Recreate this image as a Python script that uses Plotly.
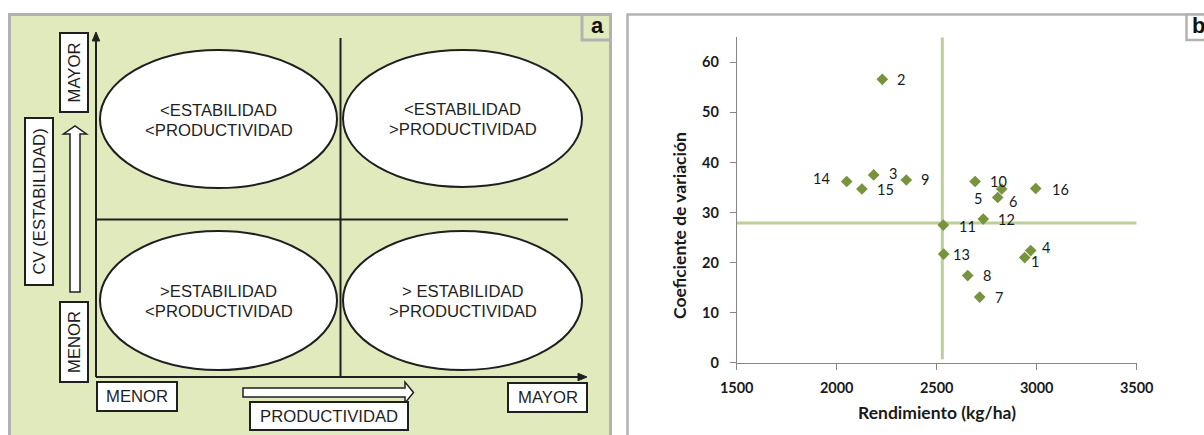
import plotly.graph_objects as go

W, H = 1204, 435

# ---- data: yield and coefficient of variation per genotype ----
genotypes = [str(i) for i in range(1, 17)]
yield_kg_ha = [2940, 2228, 2185, 2970, 2805, 2825, 2715, 2655,
               2348, 2692, 2533, 2733, 2535, 2050, 2126, 2995]
cv_pct = [21.0, 56.6, 37.5, 22.4, 33.0, 34.7, 13.1, 17.4,
          36.5, 36.2, 27.5, 28.7, 21.7, 36.2, 34.7, 34.8]

mean_yield = 2528
mean_cv = 27.9

x_ticks = [1500, 2000, 2500, 3000, 3500]
y_ticks = [0, 10, 20, 30, 40, 50, 60]

quadrant_labels = [
    ["<ESTABILIDAD", "<PRODUCTIVIDAD"],
    ["<ESTABILIDAD", ">PRODUCTIVIDAD"],
    [">ESTABILIDAD", "<PRODUCTIVIDAD"],
    ["> ESTABILIDAD", ">PRODUCTIVIDAD"],
]

# label placement for each genotype: anchor side, dx, dy (pixels, dy down)
label_side = ["left", "left", "left", "left", "right", "left", "left", "left",
              "left", "left", "left", "left", "left", "right", "left", "left"]
label_dx = [4, 13, 13, 9, -14, 5, 13, 13, 13, 13, 14, 13, 7, -15, 13, 14]
label_dy = [4, 0, -1, -3, 1, 13, 0, 0, 0, 0, 1, 0, 0, -3, 1, 1]


def px(x):
    return x / W


def py(y):
    return 1 - y / H


def path(points, close=True):
    s = "M " + " L ".join(f"{px(x):.5f},{py(y):.5f}" for x, y in points)
    return s + (" Z" if close else "")


GREEN_BG = "#e0eabd"
FRAME = "#b2b2b2"
INK = "#1f1f1f"
ARIAL = "Liberation Sans, Arial, sans-serif"
LATO = "Lato, Carlito, sans-serif"

shapes = []
annotations = []


def rect(x0, y0, x1, y1, fill, color, width):
    shapes.append(dict(type="rect", xref="paper", yref="paper",
                       x0=px(x0), x1=px(x1), y0=py(y1), y1=py(y0),
                       fillcolor=fill, line=dict(color=color, width=width)))


def seg(x0, y0, x1, y1, color=INK, width=2):
    shapes.append(dict(type="line", xref="paper", yref="paper",
                       x0=px(x0), x1=px(x1), y0=py(y0), y1=py(y1),
                       line=dict(color=color, width=width)))


def label(x, y, text, size=16.7, angle=0, family=ARIAL, bold=False, color=INK):
    annotations.append(dict(xref="paper", yref="paper", x=px(x), y=py(y),
                            text=text, showarrow=False, textangle=angle,
                            xanchor="center", yanchor="middle",
                            font=dict(family=family, size=size, color=color,
                                      weight="bold" if bold else "normal")))


# ---------------- panel a: conceptual quadrant diagram ----------------
rect(9.5, 14.5, 610.5, 445, GREEN_BG, FRAME, 3)
rect(582, 14.5, 610.5, 40, GREEN_BG, FRAME, 3)
label(597, 26, "a", size=22, bold=True, color="#111")

# axes with arrow heads
seg(96, 377, 96, 38)
shapes.append(dict(type="path", xref="paper", yref="paper",
                   path=path([(92.3, 41), (96, 32), (99.7, 41)]),
                   fillcolor=INK, line=dict(color=INK, width=1)))
seg(96, 377, 581, 377)
shapes.append(dict(type="path", xref="paper", yref="paper",
                   path=path([(578, 373.3), (587, 377), (578, 380.7)]),
                   fillcolor=INK, line=dict(color=INK, width=1)))

# quadrant dividers
seg(340.5, 38, 340.5, 377)
seg(96, 219.5, 568, 219.5)

# ellipses with their captions
ellipses = [(100, 50, 337, 188), (343, 50, 582, 187),
            (100, 231, 337, 370), (343, 231, 582, 370)]
for (x0, y0, x1, y1), lines in zip(ellipses, quadrant_labels):
    shapes.append(dict(type="circle", xref="paper", yref="paper",
                       x0=px(x0), x1=px(x1), y0=py(y1), y1=py(y0),
                       fillcolor="white", line=dict(color=INK, width=2)))
    cx = (x0 + x1) / 2
    cy = (y0 + y1) / 2
    label(cx, cy - 9, lines[0])
    label(cx, cy + 11, lines[1])

# hollow arrows
shapes.append(dict(type="path", xref="paper", yref="paper",
                   path=path([(70, 292), (80, 292), (80, 134), (86.5, 134),
                              (75, 126), (63.5, 134), (70, 134)]),
                   fillcolor="white", line=dict(color=INK, width=1.5)))
shapes.append(dict(type="path", xref="paper", yref="paper",
                   path=path([(243, 388), (405, 388), (405, 382), (413.5, 392.5),
                              (405, 403), (405, 397), (243, 397)]),
                   fillcolor="white", line=dict(color=INK, width=1.5)))

# boxed axis captions
rect(60, 33, 88, 112, "white", INK, 2)
label(74, 72.5, "MAYOR", angle=-90)
rect(25, 118, 53, 285, "white", INK, 2)
label(39, 201.5, "CV (ESTABILIDAD)", angle=-90)
rect(60, 302, 88, 382, "white", INK, 2)
label(74, 342, "MENOR", angle=-90)
rect(97, 382, 177, 411, "white", INK, 2)
label(137, 396.5, "MENOR")
rect(250, 402, 408, 430, "white", INK, 2)
label(329, 416, "PRODUCTIVIDAD")
rect(508, 383, 587, 412, "white", INK, 2)
label(547.5, 397.5, "MAYOR")

# ---------------- panel b: yield vs CV scatter ----------------
rect(627.5, 14.5, 1212, 445, "rgba(0,0,0,0)", FRAME, 2.5)
rect(1186.5, 14.5, 1212, 40, "white", FRAME, 2.5)
annotations.append(dict(xref="paper", yref="paper", x=px(1190), y=py(26),
                        text="b", showarrow=False, xanchor="left", yanchor="middle",
                        font=dict(family=ARIAL, size=22, color="#111", weight="bold")))

REF_LINE = "#bccf98"
shapes.append(dict(type="line", xref="x", yref="y", layer="below",
                   x0=x_ticks[0], x1=x_ticks[-1], y0=mean_cv, y1=mean_cv,
                   line=dict(color=REF_LINE, width=3)))
shapes.append(dict(type="line", xref="x", yref="y", layer="below",
                   x0=mean_yield, x1=mean_yield, y0=0.7, y1=65,
                   line=dict(color=REF_LINE, width=3)))

for g, xv, yv, side, dx, dy in zip(genotypes, yield_kg_ha, cv_pct,
                                    label_side, label_dx, label_dy):
    annotations.append(dict(xref="x", yref="y", x=xv, y=yv, text=g,
                            showarrow=False,
                            xanchor="left" if side == "left" else "right",
                            yanchor="middle", xshift=dx, yshift=-dy,
                            font=dict(family=LATO, size=14.5, color="#1a1a1a")))

label(937, 412, "Rendimiento (kg/ha)", size=17.5, family=LATO, bold=True, color="#1a1a1a")
label(680, 226, "Coeficiente de variación", size=17.5, family=LATO, bold=True,
      angle=-90, color="#1a1a1a")

fig = go.Figure()
fig.add_trace(go.Scatter(
    x=yield_kg_ha, y=cv_pct, mode="markers", text=genotypes,
    marker=dict(symbol="diamond", size=9, color="#77933c"),
    showlegend=False, hoverinfo="text+x+y"))

AXIS_GREY = "#868686"
fig.update_layout(
    width=W, height=H, autosize=False,
    margin=dict(l=0, r=0, t=0, b=0, pad=0, autoexpand=False),
    paper_bgcolor="white", plot_bgcolor="rgba(0,0,0,0)",
    shapes=shapes, annotations=annotations,
    xaxis=dict(domain=[px(736.7), px(1136.7)], range=[1500, 3500],
               tickvals=x_ticks, showgrid=False, zeroline=False,
               showline=True, linecolor=AXIS_GREY, linewidth=1,
               ticks="outside", ticklen=6, tickcolor=AXIS_GREY,
               ticklabelstandoff=6, automargin=False,
               tickfont=dict(family=LATO, size=14.5, color="#1a1a1a", weight="bold")),
    yaxis=dict(domain=[py(362.7), py(37.3)], range=[0, 65],
               tickvals=y_ticks, showgrid=False, zeroline=False,
               showline=True, linecolor=AXIS_GREY, linewidth=1,
               ticks="outside", ticklen=6, tickcolor=AXIS_GREY,
               ticklabelstandoff=8, automargin=False,
               tickfont=dict(family=LATO, size=14.5, color="#1a1a1a", weight="bold")),
)

fig.write_html("out.html")
